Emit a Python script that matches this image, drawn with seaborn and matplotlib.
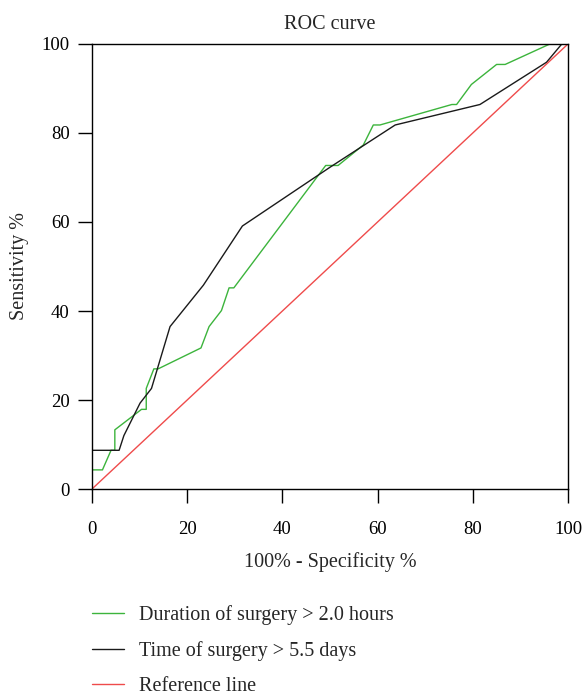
import matplotlib
matplotlib.use("Agg")
import matplotlib.pyplot as plt
import seaborn as sns
import pandas as pd

# ROC curve points (100% - specificity, sensitivity)
duration_x = [0, 0, 2.2, 4.0, 4.8, 4.8, 10.4, 11.4, 11.4, 13.0, 13.9, 22.9, 24.6,
              27.2, 28.8, 29.8, 49.1, 51.7, 57.0, 59.1, 60.5, 75.6, 76.6, 79.7,
              85.0, 86.8, 96.2, 100]
duration_y = [0, 4.3, 4.3, 8.7, 8.7, 13.3, 17.9, 17.9, 22.6, 27.0, 27.0, 31.7, 36.5,
              40.1, 45.2, 45.2, 72.7, 72.7, 77.3, 81.8, 81.8, 86.4, 86.4, 90.9,
              95.4, 95.4, 100, 100]

time_x = [0, 0, 5.7, 6.7, 10.1, 12.5, 16.4, 23.4, 31.6, 50.0, 63.7, 81.5, 95.5, 98.7, 100]
time_y = [0, 8.7, 8.7, 12.0, 19.3, 22.6, 36.5, 45.8, 59.1, 72.3, 81.8, 86.4, 95.9, 100, 100]

ref_x = [0, 100]
ref_y = [0, 100]

labels = ["Duration of surgery > 2.0 hours", "Time of surgery > 5.5 days", "Reference line"]
colors = ["#3cb43c", "#1a1a1a", "#ef4b4b"]

df_dur = pd.DataFrame({"x": duration_x, "y": duration_y})
df_time = pd.DataFrame({"x": time_x, "y": time_y})
df_ref = pd.DataFrame({"x": ref_x, "y": ref_y})

sns.set_style("ticks")
plt.rcParams["font.family"] = ["Liberation Serif", "DejaVu Serif"]
plt.rcParams["axes.linewidth"] = 1.0

fig = plt.figure(figsize=(5.84, 6.98), dpi=100)
ax = fig.add_axes([0.1575, 0.2994, 0.8151, 0.6376])

for d, lab, c in zip([df_dur, df_time, df_ref], labels, colors):
    sns.lineplot(data=d, x="x", y="y", ax=ax, color=c, linewidth=1.0,
                 label=lab, sort=False, estimator=None)

ax.set_xlim(0, 100)
ax.set_ylim(0, 100)
ax.set_xticks([0, 20, 40, 60, 80, 100])
ax.set_yticks([0, 20, 40, 60, 80, 100])
ax.tick_params(axis="both", length=10, width=1.0, labelsize=13.5, colors="black")
ax.tick_params(axis="x", pad=13)
ax.tick_params(axis="y", pad=6)
for s in ax.spines.values():
    s.set_visible(True)
    s.set_color("black")

ax.set_title("ROC curve", fontsize=14.5, pad=11)
ax.set_xlabel("100% - Specificity %", fontsize=14.5, labelpad=10)
ax.set_ylabel("Sensitivity %", fontsize=14.5, labelpad=9)

handles, labs = ax.get_legend_handles_labels()
ax.get_legend().remove()
fig.legend(handles, labs, loc="upper left", bbox_to_anchor=(0.158, 0.133),
           frameon=False, fontsize=14.5, handlelength=1.6, handletextpad=0.7,
           labelspacing=0.8, borderpad=0, borderaxespad=0)

fig.savefig("out.png", dpi=100)
